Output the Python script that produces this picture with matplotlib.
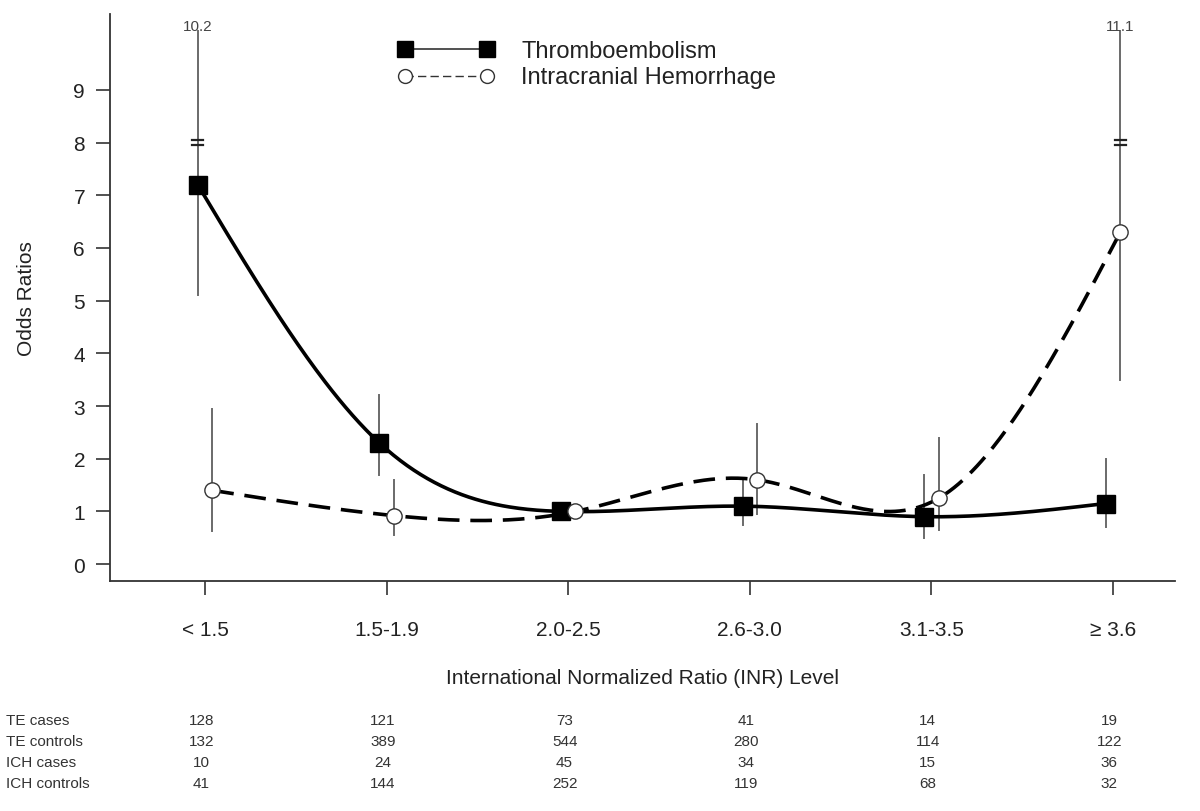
import numpy as np
import matplotlib.pyplot as plt

plt.rcParams['font.family'] = ['Liberation Sans', 'DejaVu Sans']

categories = ["< 1.5", "1.5-1.9", "2.0-2.5", "2.6-3.0", "3.1-3.5", "\u2265 3.6"]

te_or = [7.2, 2.3, 1.0, 1.1, 0.9, 1.15]
te_low = [5.1, 1.7, None, 0.75, 0.5, 0.7]
te_high = [10.2, 3.2, None, 1.6, 1.7, 2.0]

ich_or = [1.4, 0.92, 1.0, 1.6, 1.25, 6.3]
ich_low = [0.62, 0.55, None, 0.95, 0.65, 3.5]
ich_high = [2.95, 1.6, None, 2.65, 2.4, 11.1]

row_labels = ["TE cases", "TE controls", "ICH cases", "ICH controls"]
te_cases = [128, 121, 73, 41, 14, 19]
te_controls = [132, 389, 544, 280, 114, 122]
ich_cases = [10, 24, 45, 34, 15, 36]
ich_controls = [41, 144, 252, 119, 68, 32]

CAP = 10.12    # where off-scale error bars stop
BREAK = 8.0    # where the break mark sits


def natural_spline(x, y, xs):
    x = np.asarray(x, float)
    y = np.asarray(y, float)
    n = len(x)
    h = np.diff(x)
    A = np.zeros((n, n))
    b = np.zeros(n)
    A[0, 0] = 1
    A[-1, -1] = 1
    for i in range(1, n - 1):
        A[i, i - 1] = h[i - 1]
        A[i, i] = 2 * (h[i - 1] + h[i])
        A[i, i + 1] = h[i]
        b[i] = 6 * ((y[i + 1] - y[i]) / h[i] - (y[i] - y[i - 1]) / h[i - 1])
    M = np.linalg.solve(A, b)
    out = np.empty_like(xs)
    for k, t in enumerate(xs):
        i = min(max(np.searchsorted(x, t) - 1, 0), n - 2)
        a = x[i + 1] - t
        c = t - x[i]
        out[k] = (M[i] * a ** 3 + M[i + 1] * c ** 3) / (6 * h[i]) \
            + (y[i] / h[i] - M[i] * h[i] / 6) * a \
            + (y[i + 1] / h[i] - M[i + 1] * h[i] / 6) * c
    return out


fig = plt.figure(figsize=(12, 8.12), dpi=100)
ax = fig.add_axes([0.0917, 0.2833, 0.8873, 0.6982])

pos = np.arange(len(categories))
te_x = pos - 0.04
ich_x = pos + 0.04

errcol = "#6a6a6a"
for xs, lo, hi in [(te_x, te_low, te_high), (ich_x, ich_low, ich_high)]:
    for i in range(len(xs)):
        if lo[i] is None:
            continue
        top = min(hi[i], CAP)
        ax.plot([xs[i], xs[i]], [lo[i], top], color=errcol, lw=1.4, zorder=1)
        if hi[i] > BREAK + 1:
            # off-scale upper limit: break mark plus the value written on top
            for yy in (BREAK - 0.05, BREAK + 0.05):
                ax.plot([xs[i] - 0.03, xs[i] + 0.03], [yy, yy], color="#222222", lw=1.6, zorder=2)
            ax.text(xs[i], CAP + 0.1, f"{hi[i]:.1f}", ha="center", va="center", fontsize=11, color="#444444")

fine = np.linspace(te_x[0], te_x[-1], 400)
ax.plot(fine, natural_spline(te_x, te_or, fine), color="black", lw=2.6, zorder=3)
fine2 = np.linspace(ich_x[0], ich_x[-1], 400)
ax.plot(fine2, natural_spline(ich_x, ich_or, fine2), color="black", lw=2.6, ls=(0, (6, 3)), zorder=3)

ax.plot(te_x, te_or, ls="none", marker="s", ms=13, color="black", zorder=4)
ax.plot(ich_x, ich_or, ls="none", marker="o", ms=11, mfc="white", mec="#333333", mew=1.0, zorder=4)

ax.set_xlim(-0.523, 5.34)
ax.set_ylim(-0.32, 10.44)
ax.set_yticks(range(10))
ax.set_xticks(pos)
ax.set_xticklabels(categories)
ax.tick_params(axis="both", labelsize=15, length=10, width=1.2, color="#333333", labelcolor="#222222")
ax.tick_params(axis="x", pad=18)
ax.tick_params(axis="y", pad=8)
for s in ("top", "right"):
    ax.spines[s].set_visible(False)
for s in ("left", "bottom"):
    ax.spines[s].set_linewidth(1.3)
    ax.spines[s].set_color("#333333")

ax.set_ylabel("Odds Ratios", fontsize=15, color="#222222", labelpad=27)
ax.set_xlabel("International Normalized Ratio (INR) Level", fontsize=15, color="#222222", labelpad=21)

# legend drawn by hand, like the original
tr = fig.transFigure
fig.lines.append(plt.Line2D([405 / 1200, 487 / 1200], [1 - 50 / 812] * 2, transform=tr, color="#333333", lw=1.2,
                            marker="s", ms=11, mfc="black", mec="black"))
fig.lines.append(plt.Line2D([405 / 1200, 487 / 1200], [1 - 77 / 812] * 2, transform=tr, color="#333333", lw=1.0,
                            ls=(0, (6, 3)), marker="o", ms=10, mfc="white", mec="#333333", mew=1.0))
fig.text(521 / 1200, 1 - 52 / 812, "Thromboembolism", fontsize=17, va="center", color="#222222")
fig.text(521 / 1200, 1 - 78 / 812, "Intracranial Hemorrhage", fontsize=17, va="center", color="#222222")

# counts table under the chart
rows = [te_cases, te_controls, ich_cases, ich_controls]
row_y = [721, 742, 763, 784]
for lab, vals, yy in zip(row_labels, rows, row_y):
    fig.text(6 / 1200, 1 - yy / 812, lab, fontsize=11, va="center", color="#333333")
    for i, v in enumerate(vals):
        xd = ax.transData.transform((pos[i] - 0.02, 0))[0]
        fig.text(xd / 1200, 1 - yy / 812, str(v), fontsize=11, va="center", ha="center", color="#333333")

fig.savefig("out.png", dpi=100)
